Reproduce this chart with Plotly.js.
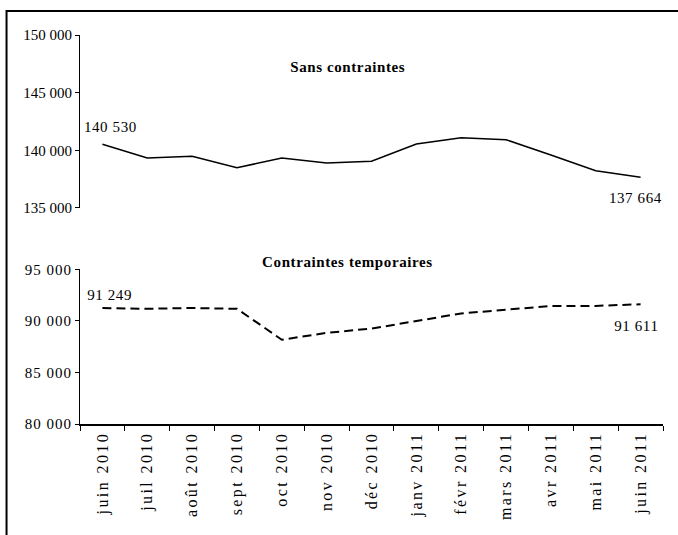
<!DOCTYPE html>
<html>
<head>
<meta charset="utf-8">
<script src="https://cdn.plot.ly/plotly-3.0.1.min.js"></script>
<style>
html,body{margin:0;padding:0;background:#fff;}
#chart{width:678px;height:535px;}
#chart .xtick text{letter-spacing:2.4px;}
#chart .ytick text{letter-spacing:1px;}
#chart .annotation text{letter-spacing:0.6px;}
</style>
</head>
<body>
<div id="chart"></div>
<script>
// ---- data ----
const months = ["juin 2010","juil 2010","août 2010","sept 2010","oct 2010","nov 2010","déc 2010","janv 2011","févr 2011","mars 2011","avr 2011","mai 2011","juin 2011"];
const sansContraintes = [140530,139330,139480,138490,139330,138900,139050,140550,141100,140920,139600,138230,137664];
const contraintesTemporaires = [91249,91170,91250,91170,88170,88840,89250,90000,90720,91080,91450,91450,91611];
const topTicks = [135000,140000,145000,150000];
const bottomTicks = [80000,85000,90000,95000];
const topTitle = "Sans contraintes";
const bottomTitle = "Contraintes temporaires";

const fmt = v => String(v).replace(/\B(?=(\d{3})+(?!\d))/g, " ");
const FONT = "Liberation Serif";

const traces = [
  {x: months, y: sansContraintes, xaxis: "x2", yaxis: "y2", type: "scatter", mode: "lines",
   line: {color: "#000", width: 1.5}, hoverinfo: "skip"},
  {x: months, y: contraintesTemporaires, xaxis: "x", yaxis: "y", type: "scatter", mode: "lines",
   line: {color: "#000", width: 2, dash: "9px,5px"}, hoverinfo: "skip"}
];

const last = months.length - 1;
const annotations = [
  {xref: "x2", yref: "y2", x: months[0], y: sansContraintes[0], text: fmt(sansContraintes[0]),
   showarrow: false, xshift: 8, yshift: 17},
  {xref: "x2", yref: "y2", x: months[last], y: sansContraintes[last], text: fmt(sansContraintes[last]),
   showarrow: false, xshift: -5, yshift: -21},
  {xref: "x", yref: "y", x: months[0], y: contraintesTemporaires[0], text: fmt(contraintesTemporaires[0]),
   showarrow: false, xshift: 7, yshift: 13},
  {xref: "x", yref: "y", x: months[last], y: contraintesTemporaires[last], text: fmt(contraintesTemporaires[last]),
   showarrow: false, xshift: -4, yshift: -22},
  {xref: "paper", yref: "paper", x: 0.459, y: 0.9434, text: "<b>" + topTitle + "</b>", showarrow: false,
   font: {family: FONT, size: 15, color: "#000"}},
  {xref: "paper", yref: "paper", x: 0.459, y: 0.4165, text: "<b>" + bottomTitle + "</b>", showarrow: false,
   font: {family: FONT, size: 15, color: "#000"}}
];

const yCommon = {
  showline: true, linecolor: "#000", linewidth: 1, ticks: "outside", ticklen: 4, tickcolor: "#000",
  showgrid: false, zeroline: false, tickformat: ",d", tickfont: {family: FONT, size: 15, color: "#000"},
  fixedrange: true
};

const layout = {
  width: 678, height: 535,
  margin: {l: 80, r: 14.5, t: 35, b: 111, pad: 0},
  paper_bgcolor: "#fff", plot_bgcolor: "#fff",
  separators: ", ",
  showlegend: false,
  font: {family: FONT, size: 15, color: "#000"},
  xaxis: {
    type: "category", anchor: "y", domain: [0, 1],
    showline: true, linecolor: "#000", linewidth: 1.5,
    ticks: "outside", ticklen: 5, tickcolor: "#000", tickson: "boundaries",
    tickangle: -90, showgrid: false, zeroline: false,
    tickfont: {family: FONT, size: 16, color: "#000"}, range: [-0.5, 12.5]
  },
  xaxis2: {
    type: "category", anchor: "y2", matches: "x", domain: [0, 1],
    visible: false, range: [-0.5, 12.5]
  },
  yaxis: Object.assign({}, yCommon, {domain: [0, 0.3977], range: [80000, 95000], tickvals: bottomTicks, anchor: "x"}),
  yaxis2: Object.assign({}, yCommon, {domain: [0.5553, 1], range: [135000, 150000], tickvals: topTicks, anchor: "x2"}),
  annotations: annotations,
  shapes: [
    {type: "path", xref: "paper", yref: "paper",
     path: "M -0.126,-0.4 L -0.126,1.0617 L 1.05,1.0617",
     line: {color: "#000", width: 2}}
  ]
};

Plotly.newPlot("chart", traces, layout, {displayModeBar: false, staticPlot: true});
</script>
</body>
</html>
